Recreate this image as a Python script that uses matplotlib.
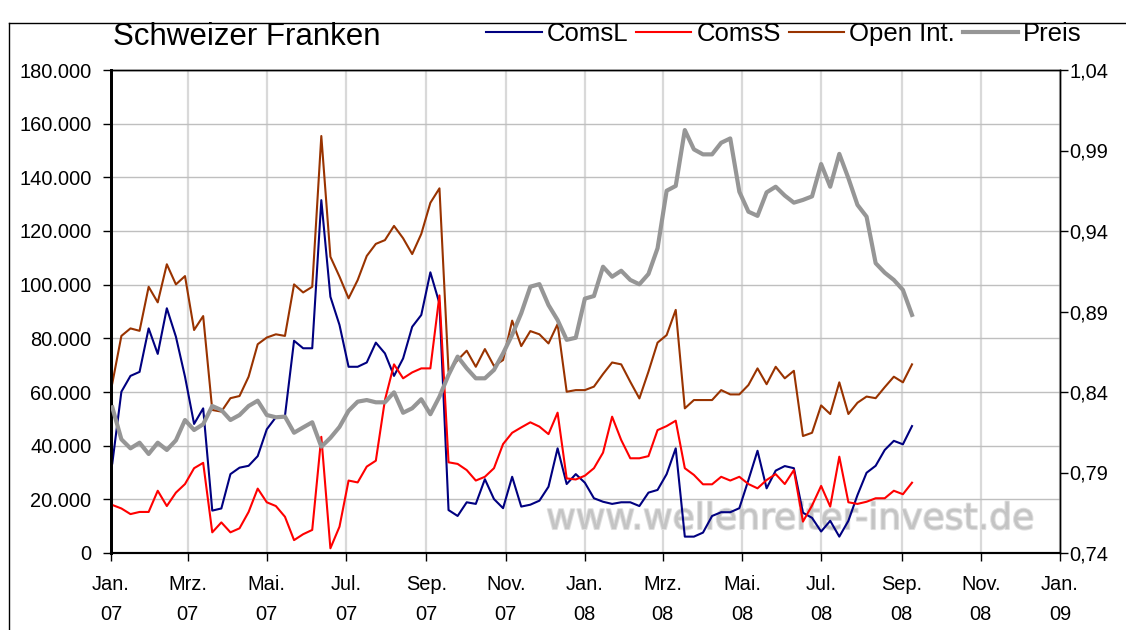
import matplotlib.pyplot as plt
import matplotlib.ticker as mticker
import matplotlib.patheffects as pe
import pandas as pd
from matplotlib.lines import Line2D

plt.rcParams['font.family'] = ['Liberation Sans', 'DejaVu Sans']

# Wochendaten (COT), Jan. 2007 bis Sep. 2008
dates = pd.date_range('2007-01-02', periods=89, freq='7D')

coms_l = [33400, 60100, 66000, 67500, 83700, 74200, 91200, 80600, 65700, 48100,
          53900, 15800, 16600, 29400, 31800, 32500, 36100, 46100, 50600, 51100,
          79100, 76300, 76300, 131500, 95500, 85000, 69400, 69400, 71000, 78400,
          74400, 66000, 72500, 84300, 88700, 104600, 93000, 16000, 13800, 18900,
          18300, 27500, 20100, 16700, 28400, 17300, 18000, 19500, 24700, 39000,
          25700, 29400, 26200, 20400, 19100, 18300, 18900, 18900, 17500, 22500,
          23500, 29400, 39000, 6100, 6100, 7600, 13800, 15200, 15200, 16700,
          27200, 38100, 24100, 30700, 32400, 31600, 15000, 13100, 8000, 12000,
          6100, 12000, 21600, 29900, 32500, 38400, 41800, 40500, 47300]

coms_s = [17900, 16600, 14500, 15300, 15300, 23200, 17500, 22500, 25700, 31600,
          33600, 7700, 11400, 7700, 9200, 15300, 24000, 18900, 17500, 13500,
          4800, 7000, 8600, 43300, 1750, 9800, 27000, 26300, 32200, 34400,
          57000, 70300, 65100, 67300, 68800, 68800, 96000, 33800, 33200, 30900,
          27000, 28400, 31600, 40600, 44800, 46800, 48700, 47100, 44300, 52300,
          27800, 27400, 28800, 31600, 37400, 50800, 42100, 35300, 35300, 36100,
          45800, 47300, 49300, 31600, 29100, 25600, 25600, 28400, 27000, 28400,
          25700, 24100, 27200, 29400, 25700, 30900, 11700, 17700, 25000, 17300,
          35900, 18900, 18300, 19100, 20400, 20400, 23200, 21900, 26200]

open_int = [63200, 80900, 83700, 82800, 99200, 93400, 107600, 100100, 103200, 83100,
            88300, 53300, 52700, 57700, 58500, 65700, 77800, 80300, 81500, 80900,
            100100, 97100, 99200, 155400, 110400, 103000, 94900, 101700, 110700, 115200,
            116600, 121900, 117300, 111400, 118900, 130500, 135900, 67600, 71900, 75400,
            69400, 76000, 69700, 71900, 86600, 77100, 82700, 81500, 78100, 85300,
            60100, 60700, 60700, 62000, 66700, 71000, 70300, 63800, 57600, 67600,
            78400, 81200, 90600, 53900, 57000, 57000, 57000, 60700, 59100, 59100,
            62600, 68800, 62900, 69400, 65100, 67900, 43600, 44800, 55000, 51800,
            63600, 51800, 56000, 58300, 57700, 61800, 65700, 63600, 70300]

preis = [0.8305, 0.8106, 0.8050, 0.8085, 0.8015, 0.8085, 0.8040, 0.8100, 0.8226, 0.8164,
         0.8200, 0.8313, 0.8288, 0.8226, 0.8257, 0.8313, 0.8346, 0.8257, 0.8243, 0.8247,
         0.8147, 0.8180, 0.8212, 0.8060, 0.8115, 0.8183, 0.8283, 0.8340, 0.8350, 0.8336,
         0.8336, 0.8398, 0.8271, 0.8299, 0.8355, 0.8262, 0.8371, 0.8506, 0.8620, 0.8547,
         0.8485, 0.8485, 0.8537, 0.8640, 0.8755, 0.8889, 0.9054, 0.9070, 0.8940, 0.8847,
         0.8724, 0.8737, 0.8980, 0.8996, 0.9178, 0.9116, 0.9153, 0.9096, 0.9069, 0.9133,
         0.9293, 0.9650, 0.9680, 1.0027, 0.9907, 0.9876, 0.9876, 0.9948, 0.9975, 0.9644,
         0.9520, 0.9494, 0.9640, 0.9675, 0.9620, 0.9576, 0.9593, 0.9615, 0.9816, 0.9675,
         0.9879, 0.9728, 0.9562, 0.9489, 0.9200, 0.9141, 0.9096, 0.9034, 0.8879]

left_ticks = [0, 20000, 40000, 60000, 80000, 100000, 120000, 140000, 160000, 180000]
right_ticks = [0.74, 0.79, 0.84, 0.89, 0.94, 0.99, 1.04]
month_ticks = pd.date_range('2007-01-01', '2009-01-01', freq='2MS')
month_names = {1: 'Jan.', 3: 'Mrz.', 5: 'Mai.', 7: 'Jul.', 9: 'Sep.', 11: 'Nov.'}
tick_labels = [f"{month_names[d.month]}\n{d.strftime('%y')}" for d in month_ticks]

W, H = 1126, 630
fig = plt.figure(figsize=(W / 100, H / 100), dpi=100)
ax = fig.add_axes([111 / W, 1 - 553 / H, 949 / W, 483 / H])
ax2 = ax.twinx()

# Linien
l1, = ax.plot(dates, coms_l, color='#000080', lw=1.5, zorder=3)
l2, = ax.plot(dates, coms_s, color='#ff0000', lw=1.5, zorder=3)
l3, = ax.plot(dates, open_int, color='#993300', lw=1.5, zorder=3)
l4, = ax2.plot(dates, preis, color='#969696', lw=3.0, zorder=3)

# Achsen
ax.set_xlim(month_ticks[0], month_ticks[-1])
ax.set_ylim(0, 180000)
ax2.set_ylim(0.74, 1.04)
ax.set_xticks(month_ticks)
ax.set_xticklabels(tick_labels, linespacing=1.75)
ax.set_yticks(left_ticks)
ax.yaxis.set_major_formatter(mticker.FuncFormatter(lambda v, p: f"{v:,.0f}".replace(',', '.')))
ax2.set_yticks(right_ticks)
ax2.yaxis.set_major_formatter(mticker.FuncFormatter(lambda v, p: f"{v:.2f}".replace('.', ',')))

ax.tick_params(axis='both', direction='out', length=6, width=1, labelsize=14.4, colors='black')
ax.tick_params(axis='x', pad=10)
ax.tick_params(axis='y', pad=8)
ax2.tick_params(axis='y', direction='out', length=6, width=1, labelsize=14.4, pad=1)

ax.set_axisbelow(True)
ax.yaxis.grid(True, color='#bfbfbf', lw=1.0)
ax.xaxis.grid(True, color='#d9d9d9', lw=1.6)

for axis in (ax, ax2):
    for name, sp in axis.spines.items():
        sp.set_color('black')
        sp.set_linewidth(1.0)
    axis.spines['left'].set_linewidth(2.0)
    axis.spines['bottom'].set_linewidth(1.5)

# Wasserzeichen
ax.text(790 / W, 1 - 529 / H, 'www.wellenreiter-invest.de', transform=fig.transFigure,
        fontsize=26, family='DejaVu Sans', color='#c4c4c4', ha='center', va='baseline',
        zorder=1, path_effects=[pe.withStroke(linewidth=1.5, foreground='#dedede')])

# Titel und Legende
fig.text(113 / W, 1 - 37 / H, 'Schweizer Franken', fontsize=22.5, va='center', ha='left')
fig.legend([l1, l2, l3, l4], ['ComsL', 'ComsS', 'Open Int.', 'Preis'],
           loc='center', bbox_to_anchor=(784 / W, 1 - 34 / H), ncol=4, frameon=False,
           fontsize=18.5, handlelength=2.15, handletextpad=0.2, columnspacing=0.3)

# Rahmen
fig.add_artist(Line2D([9 / W, 1], [1 - 23 / H, 1 - 23 / H], color='black', lw=1.0))
fig.add_artist(Line2D([9 / W, 9 / W], [0, 1 - 23 / H], color='black', lw=1.0))

fig.savefig('out.png', dpi=100)
